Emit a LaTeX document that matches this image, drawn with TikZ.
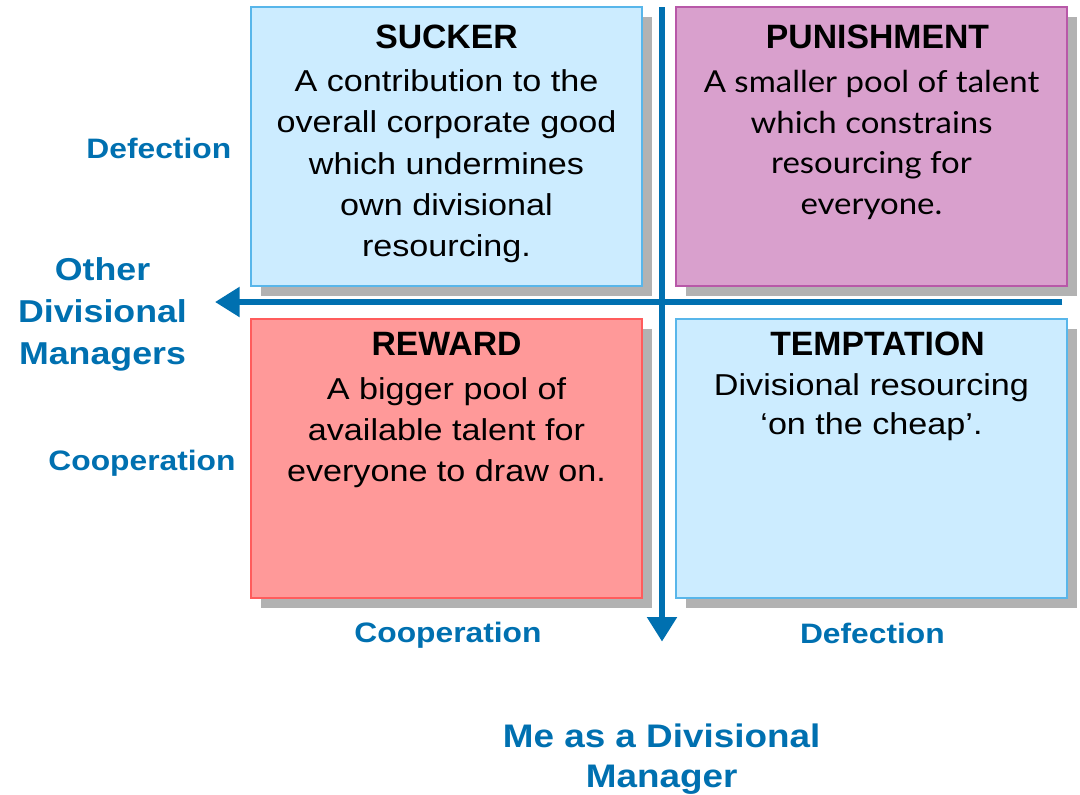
\documentclass[tikz,border=0pt]{standalone}
\usepackage{fontspec}
\setmainfont{Liberation Sans}
\newfontfamily\largofont[FakeStretch=1.13]{Liberation Sans}
\newfontfamily\latofont[FakeStretch=1.09]{Lato}
\usetikzlibrary{arrows.meta,shadows}

\definecolor{asseblu}{RGB}{0,112,176}
\definecolor{ombra}{RGB}{178,178,178}
\definecolor{celeste}{RGB}{204,236,255}
\definecolor{celestebordo}{RGB}{88,182,234}
\definecolor{malva}{RGB}{217,160,205}
\definecolor{malvabordo}{RGB}{184,88,168}
\definecolor{rosa}{RGB}{255,153,153}
\definecolor{rosabordo}{RGB}{255,92,92}

\begin{document}
\begin{tikzpicture}[>={Triangle[width=20.5pt,length=17.5pt]},
    quadrante/.style={draw, line width=1.2pt, inner sep=0pt,
        minimum width=9.775cm, minimum height=6.975cm,
        drop shadow={shadow xshift=0.26cm, shadow yshift=-0.26cm, fill=ombra, opacity=1}},
    titolo/.style={anchor=base, inner sep=0pt, font=\bfseries\fontsize{24}{28}\selectfont},
    testo/.style={anchor=north, inner sep=0pt, align=center,
        font=\largofont\fontsize{21.5}{29.2}\selectfont},
    etichetta/.style={anchor=base, inner sep=0pt, text=asseblu,
        font=\largofont\bfseries\fontsize{20}{24}\selectfont},
    asse/.style={draw=asseblu, line width=4.2pt, ->}]

    % Area della figura
    \useasboundingbox (0,0) rectangle (27,-19.85);

    % I quattro quadranti
    \node[quadrante, fill=celeste, draw=celestebordo] (sucker) at (11.1625,-3.6625) {};
    \node[quadrante, fill=malva, draw=malvabordo] (punish) at (21.7875,-3.6625) {};
    \node[quadrante, fill=rosa, draw=rosabordo] (reward) at (11.1625,-11.4625) {};
    \node[quadrante, fill=celeste, draw=celestebordo] (tempt) at (21.7875,-11.4625) {};

    % Titoli e testi dei quadranti
    \node[titolo] (tsucker) at ([yshift=-1.0575cm]sucker.north) {SUCKER};
    \node[testo] (bsucker) at ([yshift=-1.59cm]sucker.north)
        {A contribution to the\\overall corporate good\\which undermines\\own divisional\\resourcing.};

    \node[titolo] (tpunish) at ([xshift=0.15cm,yshift=-1.0575cm]punish.north) {PUNISHMENT};
    \node[testo, font=\latofont\fontsize{21.5}{29}\selectfont] (bpunish) at ([yshift=-1.59cm]punish.north)
        {A smaller pool of talent\\which constrains\\resourcing for\\everyone.};

    \node[titolo] (treward) at ([yshift=-0.9425cm]reward.north) {REWARD};
    \node[testo] (breward) at ([yshift=-1.475cm]reward.north)
        {A bigger pool of\\available talent for\\everyone to draw on.};

    \node[titolo] (ttempt) at ([xshift=0.15cm,yshift=-0.9425cm]tempt.north) {TEMPTATION};
    \node[testo, font=\largofont\fontsize{21.5}{27.8}\selectfont] (btempt) at ([yshift=-1.375cm]tempt.north)
        {Divisional resourcing\\‘on the cheap’.};

    % Assi con frecce
    \coordinate (vtop) at (16.55,-0.18);
    \coordinate (vbot) at (16.55,-16.04);
    \coordinate (hdx) at (26.56,-7.55);
    \coordinate (hsx) at (5.375,-7.55);
    \draw[asse] (vtop) -- (vbot);
    \draw[asse] (hdx) -- (hsx);

    % Etichette degli assi
    \node[etichetta] (ydef) at (3.97,-3.96) {Defection};
    \node[etichetta] (ycoop) at (3.55,-11.75) {Cooperation};
    \node[etichetta] (xcoop) at (11.2,-16.07) {Cooperation};
    \node[etichetta] (xdef) at (21.81,-16.075) {Defection};

    \node[anchor=north, align=center, inner sep=0pt, text=asseblu,
        font=\largofont\bfseries\fontsize{22.5}{30}\selectfont] (altri) at (2.5625,-6.43)
        {Other\\Divisional\\Managers};
    \node[anchor=north, align=center, inner sep=0pt, text=asseblu,
        font=\largofont\bfseries\fontsize{23.2}{28.5}\selectfont] (io) at (16.54,-18.09)
        {Me as a Divisional\\Manager};
\end{tikzpicture}
\end{document}
